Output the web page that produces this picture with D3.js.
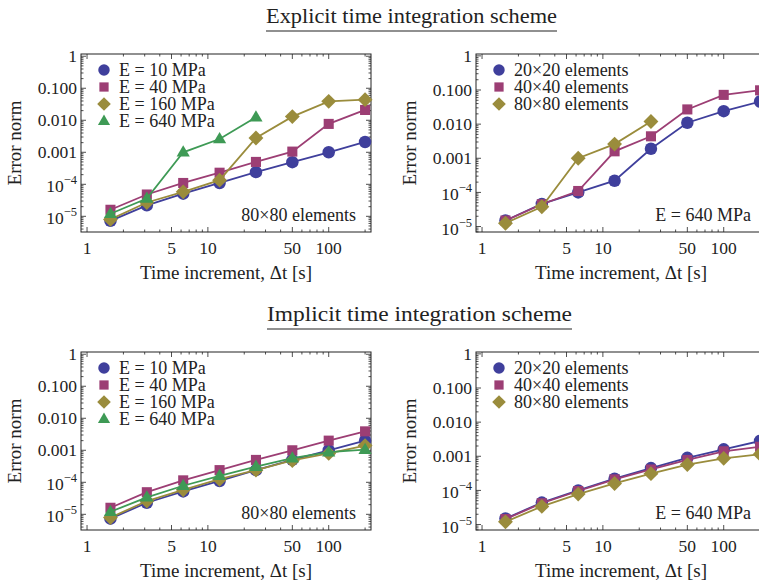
<!DOCTYPE html>
<html>
<head>
<meta charset="utf-8">
<script src="https://cdn.jsdelivr.net/npm/d3@7"></script>
<style>
  html, body { margin: 0; padding: 0; background: #fff; }
  svg { display: block; font-family: "Liberation Serif", "Times New Roman", serif; }
</style>
</head>
<body>
<svg id="chart" width="759" height="580"></svg>
<script>
// Time increments (s)
const dt = [1.5625, 3.125, 6.25, 12.5, 25, 50, 100, 200];

// Explicit scheme, 80x80 elements, varying stiffness
const expE10  = [7.2e-6, 2.2e-5, 5.1e-5, 1.1e-4, 2.4e-4, 4.9e-4, 1.0e-3, 2.1e-3];
const expE40  = [1.6e-5, 4.8e-5, 1.1e-4, 2.3e-4, 5.0e-4, 1.05e-3, 7.7e-3, 2.1e-2];
const expE160 = [8.0e-6, 2.7e-5, 5.8e-5, 1.35e-4, 2.8e-3, 1.3e-2, 3.9e-2, 4.4e-2];
const expE640 = [1.2e-5, 3.6e-5, 1.0e-3, 2.6e-3, 1.25e-2];

// Explicit scheme, E = 640 MPa, varying mesh
const expM20 = [1.5e-5, 4.6e-5, 1.0e-4, 2.2e-4, 1.9e-3, 1.1e-2, 2.4e-2, 4.6e-2];
const expM40 = [1.5e-5, 4.5e-5, 1.1e-4, 1.6e-3, 4.4e-3, 2.7e-2, 7.2e-2, 9.8e-2];
const expM80 = [1.25e-5, 3.8e-5, 1.0e-3, 2.6e-3, 1.2e-2];

// Implicit scheme, 80x80 elements, varying stiffness
const impE10  = [7.3e-6, 2.3e-5, 5.2e-5, 1.1e-4, 2.4e-4, 5.0e-4, 1.0e-3, 2.0e-3];
const impE40  = [1.6e-5, 4.9e-5, 1.15e-4, 2.4e-4, 5.0e-4, 1.0e-3, 2.0e-3, 3.9e-3];
const impE160 = [7.9e-6, 2.6e-5, 5.8e-5, 1.25e-4, 2.4e-4, 4.8e-4, 8.0e-4, 1.4e-3];
const impE640 = [1.2e-5, 3.4e-5, 7.8e-5, 1.6e-4, 3.1e-4, 5.7e-4, 8.7e-4, 1.05e-3];

// Implicit scheme, E = 640 MPa, varying mesh
const impM20 = [1.5e-5, 4.4e-5, 1.0e-4, 2.2e-4, 4.5e-4, 9.0e-4, 1.6e-3, 2.8e-3];
const impM40 = [1.45e-5, 4.2e-5, 9.6e-5, 2.1e-4, 4.1e-4, 7.8e-4, 1.4e-3, 1.9e-3];
const impM80 = [1.2e-5, 3.4e-5, 7.8e-5, 1.6e-4, 3.1e-4, 5.7e-4, 8.7e-4, 1.15e-3];

// Legend labels
const stiffLabels = ["E = 10 MPa", "E = 40 MPa", "E = 160 MPa", "E = 640 MPa"];
const meshLabels  = ["20×20 elements", "40×40 elements", "80×80 elements"];

// Axis tick labels
const xTickVals = [1, 5, 10, 50, 100];
const xMinorVals = [2, 3, 4, 6, 7, 8, 9, 20, 30, 40, 60, 70, 80, 90, 200];
const yTickVals = [1, 0.1, 0.01, 0.001, 1e-4, 1e-5];
const yTickText = ["1", "0.100", "0.010", "0.001", ["10", "−4"], ["10", "−5"]];

const sectionTitles = ["Explicit time integration scheme", "Implicit time integration scheme"];

const colors = ["#3f3f9c", "#9c3e74", "#9a8c3c", "#3e9a55"];
const shapes = ["circle", "square", "diamond", "triangle"];

const svg = d3.select("#chart");

function markerPath(shape, s) {
  const p = d3.path();
  if (shape === "circle") {
    p.arc(0, 0, s * 0.52, 0, 2 * Math.PI);
  } else if (shape === "square") {
    const h = s * 0.42;
    p.rect(-h, -h, 2 * h, 2 * h);
  } else if (shape === "diamond") {
    const h = s * 0.62;
    p.moveTo(0, -h); p.lineTo(h, 0); p.lineTo(0, h); p.lineTo(-h, 0); p.closePath();
  } else {
    const h = s * 0.58;
    p.moveTo(0, -h); p.lineTo(h * 0.95, h * 0.62); p.lineTo(-h * 0.95, h * 0.62); p.closePath();
  }
  return p.toString();
}

function drawPanel(cfg) {
  const g = svg.append("g");
  const x = d3.scaleLog().domain([Math.pow(10, -0.05), Math.pow(10, 2.35)])
    .range([cfg.left, cfg.left + 290]);
  const y = d3.scaleLog().domain(cfg.yDomain).range([cfg.top + 178, cfg.top]);
  const x0 = cfg.left, x1 = cfg.left + 290, y0 = cfg.top + 178, y1 = cfg.top;

  // frame ticks (all four sides, inward)
  const tk = g.append("g").attr("stroke", "#222").attr("stroke-width", 0.8);
  const yMinor = [];
  for (let d = -6; d <= 0; d++) for (let k = 2; k <= 9; k++) {
    const v = k * Math.pow(10, d);
    if (v > cfg.yDomain[0] && v < cfg.yDomain[1]) yMinor.push(v);
  }
  yTickVals.forEach(v => {
    tk.append("line").attr("x1", x0).attr("x2", x0 + 5).attr("y1", y(v)).attr("y2", y(v));
    tk.append("line").attr("x1", x1).attr("x2", x1 - 5).attr("y1", y(v)).attr("y2", y(v));
  });
  yMinor.forEach(v => {
    tk.append("line").attr("x1", x0).attr("x2", x0 + 2.5).attr("y1", y(v)).attr("y2", y(v));
    tk.append("line").attr("x1", x1).attr("x2", x1 - 2.5).attr("y1", y(v)).attr("y2", y(v));
  });
  xTickVals.forEach(v => {
    tk.append("line").attr("x1", x(v)).attr("x2", x(v)).attr("y1", y0).attr("y2", y0 - 5);
    tk.append("line").attr("x1", x(v)).attr("x2", x(v)).attr("y1", y1).attr("y2", y1 + 5);
  });
  xMinorVals.forEach(v => {
    tk.append("line").attr("x1", x(v)).attr("x2", x(v)).attr("y1", y0).attr("y2", y0 - 2.5);
    tk.append("line").attr("x1", x(v)).attr("x2", x(v)).attr("y1", y1).attr("y2", y1 + 2.5);
  });

  g.append("rect").attr("x", x0).attr("y", y1).attr("width", 290).attr("height", 178)
    .attr("fill", "none").attr("stroke", "#222").attr("stroke-width", 1);

  // tick labels
  yTickVals.forEach((v, i) => {
    const t = g.append("text").attr("x", x0 - 4).attr("y", y(v) + 6)
      .attr("text-anchor", "end").attr("font-size", 17.5).attr("fill", "#222");
    const lab = yTickText[i];
    if (Array.isArray(lab)) {
      t.attr("y", y(v) + 8);
      t.append("tspan").text(lab[0]);
      t.append("tspan").attr("font-size", 12.5).attr("dy", -8).text(lab[1]);
    } else {
      t.text(lab);
    }
  });
  xTickVals.forEach(v => {
    g.append("text").attr("x", x(v)).attr("y", y0 + 22).attr("text-anchor", "middle")
      .attr("font-size", 17.5).attr("fill", "#222").text(v);
  });

  // axis titles
  g.append("text").attr("x", (x0 + x1) / 2).attr("y", y0 + 47).attr("text-anchor", "middle")
    .attr("font-size", 19).attr("fill", "#222").text("Time increment, Δt [s]");
  g.append("text").attr("transform", `translate(${x0 - 60},${(y0 + y1) / 2}) rotate(-90)`)
    .attr("text-anchor", "middle").attr("font-size", 19).attr("fill", "#222").text("Error norm");

  // series
  const line = d3.line().x((d, i) => x(dt[i])).y(d => y(d));
  cfg.series.forEach((s, si) => {
    g.append("path").attr("d", line(s)).attr("fill", "none")
      .attr("stroke", colors[si]).attr("stroke-width", 1.8);
    g.selectAll(null).data(s).enter().append("path")
      .attr("transform", (d, i) => `translate(${x(dt[i])},${y(d)})`)
      .attr("d", markerPath(shapes[si], 12)).attr("fill", colors[si]);
  });

  // legend
  cfg.labels.forEach((lab, i) => {
    const ly = cfg.top + 16 + i * 17;
    g.append("path").attr("transform", `translate(${x0 + 23},${ly})`)
      .attr("d", markerPath(shapes[i], 11)).attr("fill", colors[i]);
    g.append("text").attr("x", x0 + 38).attr("y", ly + 6).attr("font-size", 18)
      .attr("fill", "#222").text(lab);
  });

  // annotation
  g.append("text").attr("x", x1 - 15).attr("y", y0 - 11).attr("text-anchor", "end")
    .attr("font-size", 18).attr("fill", "#222").text(cfg.note);
}

// section headings with underline
[[17, 266, 557], [315, 267, 572]].forEach(([ty, xa, xb], i) => {
  svg.append("text").attr("x", (xa + xb) / 2).attr("y", ty + 6).attr("text-anchor", "middle")
    .attr("font-size", 21).attr("fill", "#222")
    .attr("textLength", xb - xa).attr("lengthAdjust", "spacingAndGlyphs")
    .text(sectionTitles[i]);
  svg.append("line").attr("x1", xa).attr("x2", xb).attr("y1", ty + 14).attr("y2", ty + 14)
    .attr("stroke", "#222").attr("stroke-width", 1.2);
});

const leftDomain = [Math.pow(10, -5.49), Math.pow(10, 0.07)];
const rightDomain = [Math.pow(10, -5.16), Math.pow(10, 0.055)];

drawPanel({ left: 81, top: 54, yDomain: leftDomain,
  series: [expE10, expE40, expE160, expE640], labels: stiffLabels, note: "80×80 elements" });
drawPanel({ left: 476, top: 54, yDomain: rightDomain,
  series: [expM20, expM40, expM80], labels: meshLabels, note: "E = 640 MPa" });
drawPanel({ left: 81, top: 352, yDomain: leftDomain,
  series: [impE10, impE40, impE160, impE640], labels: stiffLabels, note: "80×80 elements" });
drawPanel({ left: 476, top: 352, yDomain: rightDomain,
  series: [impM20, impM40, impM80], labels: meshLabels, note: "E = 640 MPa" });
</script>
</body>
</html>
